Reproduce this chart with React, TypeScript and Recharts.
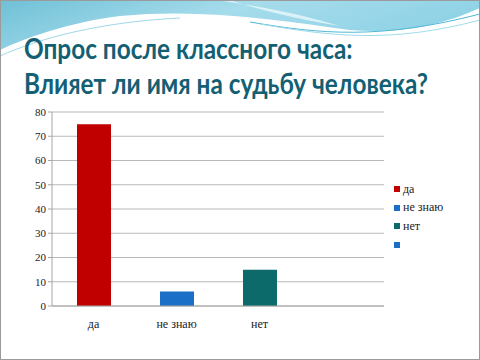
import React from "react";
import { Bar, BarChart, CartesianGrid, Cell, Legend, XAxis, YAxis } from "recharts";

const categories = ["да", "не знаю", "нет", ""];
const answers = [75, 6, 15, null];
const colors = ["#c00000", "#1b6fc6", "#0d6a6b", "#1b6fc6"];
const yTicks = [0, 10, 20, 30, 40, 50, 60, 70, 80];
const boundaryTicks = [0, 1, 2, 3, 4];

const TITLE_COLOR = "#135f74";
const TICK_FONT = "Liberation Serif, serif";

const data = categories.map((name, i) => ({ name, value: answers[i], pos: i + 0.5 }));

function SlideBackground() {
  return (
    <svg width={480} height={360} style={{ position: "absolute", left: 0, top: 0 }}>
      <defs>
        <linearGradient id="wave" x1="0" y1="0" x2="1" y2="0.3">
          <stop offset="0" stopColor="#6fc0d6" />
          <stop offset="0.5" stopColor="#a6dcec" />
          <stop offset="1" stopColor="#8fd2e6" />
        </linearGradient>
      </defs>
      <rect x={0} y={0} width={480} height={360} fill="#ffffff" />
      <path
        d="M0,0 L480,0 L480,8 C440,26 400,34 350,30 C280,20 200,8 120,16 C70,22 25,38 0,50 Z"
        fill="url(#wave)"
      />
      <path
        d="M215,0 C260,6 300,14 340,26 C300,20 260,10 230,0 Z"
        fill="#e8f7fb"
        opacity={0.8}
      />
      <path d="M0,56 C40,38 100,22 180,18" fill="none" stroke="#9fd8e8" strokeWidth={1} />
      <path d="M250,22 C320,34 380,40 480,14" fill="none" stroke="#4fb8d4" strokeWidth={1} />
      <path d="M260,24 C330,36 390,44 480,20" fill="none" stroke="#9fdcec" strokeWidth={1} />
      <rect x={0.5} y={0.5} width={479} height={359} fill="none" stroke="#9a9a9a" />
    </svg>
  );
}

function LegendBox() {
  return (
    <div style={{ fontFamily: TICK_FONT, fontSize: 12, color: "#222" }}>
      {categories.map((c, i) => (
        <div key={i} style={{ display: "flex", alignItems: "center", height: 18.6 }}>
          <span
            style={{ width: 6, height: 6, background: colors[i], marginRight: 3, display: "inline-block" }}
          />
          <span>{c}</span>
        </div>
      ))}
    </div>
  );
}

export default function App() {
  return (
    <div style={{ position: "absolute", left: 0, top: 0, width: 480, height: 360, overflow: "hidden" }}>
      <SlideBackground />
      <div
        style={{
          position: "absolute",
          left: 24,
          top: 31,
          fontFamily: "Lato, 'Open Sans', sans-serif",
          fontWeight: 700,
          fontSize: 28,
          lineHeight: "35px",
          color: TITLE_COLOR,
          whiteSpace: "nowrap",
          transform: "scaleX(0.87)",
          transformOrigin: "0 0",
        }}
      >
        <div>Опрос после классного часа:</div>
        <div>Влияет ли имя на судьбу человека?</div>
      </div>
      <div style={{ position: "absolute", left: 0, top: 0 }}>
        <BarChart
          width={480}
          height={360}
          data={data}
          margin={{ top: 112, right: 16, bottom: 24, left: 8 }}
        >
          <CartesianGrid vertical={false} stroke="#b9b9b9" />
          <XAxis
            dataKey="name"
            axisLine={{ stroke: "#a6a6a6" }}
            tickLine={false}
            height={30}
            tick={{ fontSize: 12, fill: "#222", fontFamily: TICK_FONT }}
            tickMargin={7}
          />
          <XAxis
            xAxisId="edges"
            type="number"
            dataKey="pos"
            domain={[0, 4]}
            ticks={boundaryTicks}
            axisLine={false}
            tickLine={{ stroke: "#a6a6a6" }}
            tickSize={5}
            tick={false}
            height={0}
          />
          <YAxis
            domain={[0, 80]}
            ticks={yTicks}
            width={44}
            axisLine={{ stroke: "#a6a6a6" }}
            tickLine={{ stroke: "#a6a6a6" }}
            tickSize={4}
            tick={{ fontSize: 11, fill: "#222", fontFamily: TICK_FONT }}
          />
          <Legend
            layout="vertical"
            align="right"
            verticalAlign="top"
            content={() => <LegendBox />}
            wrapperStyle={{ position: "absolute", left: 394, top: 180, width: 80 }}
          />
          <Bar dataKey="value" barSize={34} isAnimationActive={false}>
            {data.map((d, i) => (
              <Cell key={i} fill={colors[i]} />
            ))}
          </Bar>
        </BarChart>
      </div>
    </div>
  );
}
